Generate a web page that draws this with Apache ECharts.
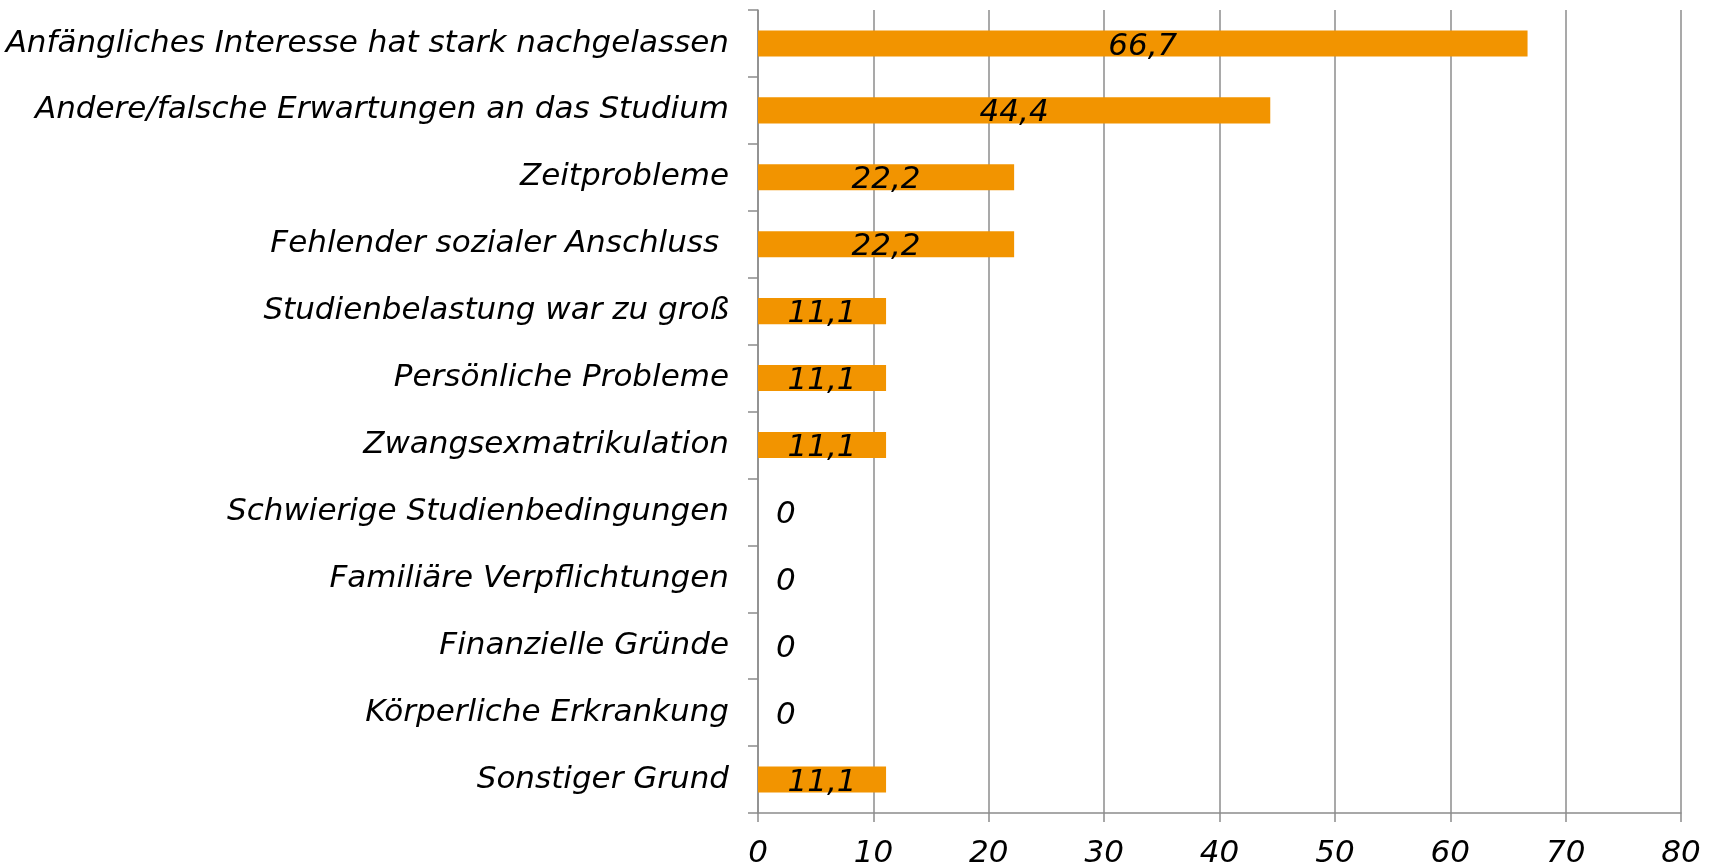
<!DOCTYPE html>
<html>
<head>
<meta charset="utf-8">
<script src="https://cdn.jsdelivr.net/npm/echarts@6/dist/echarts.min.js"></script>
<style>html,body{margin:0;padding:0;background:#fff}#c{width:1719px;height:866px}</style>
</head>
<body>
<div id="c"></div>
<script>
const categories = [
  "Anfängliches Interesse hat stark nachgelassen",
  "Andere/falsche Erwartungen an das Studium",
  "Zeitprobleme",
  "Fehlender sozialer Anschluss ",
  "Studienbelastung war zu groß",
  "Persönliche Probleme",
  "Zwangsexmatrikulation",
  "Schwierige Studienbedingungen",
  "Familiäre Verpflichtungen",
  "Finanzielle Gründe",
  "Körperliche Erkrankung",
  "Sonstiger Grund"
];
const values = [66.7, 44.4, 22.2, 22.2, 11.1, 11.1, 11.1, 0, 0, 0, 0, 11.1];
const xTicks = [0, 10, 20, 30, 40, 50, 60, 70, 80];

const FONT = '"DejaVu Sans", sans-serif';
const FS = 31;
const chart = echarts.init(document.getElementById('c'), null, {renderer: 'canvas'});
const fmt = p => String(p.value).replace('.', ',');
chart.setOption({
  animation: false,
  grid: {left: 758, right: 38, top: 10, bottom: 53, containLabel: false, outerBoundsMode: 'none'},
  xAxis: {
    type: 'value',
    min: xTicks[0], max: xTicks[xTicks.length - 1], interval: 10,
    axisLine: {show: true, lineStyle: {color: '#8c8c8c', width: 1.5}},
    axisTick: {show: true, length: 9, lineStyle: {color: '#8c8c8c', width: 1.5}},
    splitLine: {show: true, lineStyle: {color: '#8c8c8c', width: 1.5}},
    axisLabel: {color: '#000', fontSize: FS, fontStyle: 'italic', fontFamily: FONT, margin: 25}
  },
  yAxis: {
    type: 'category',
    inverse: true,
    data: categories,
    axisLine: {show: true, lineStyle: {color: '#8c8c8c', width: 1.5}},
    axisTick: {show: true, length: 10, alignWithLabel: false, lineStyle: {color: '#8c8c8c', width: 1.5}},
    axisLabel: {color: '#000', fontSize: FS, fontStyle: 'italic', fontFamily: FONT, margin: 29}
  },
  series: [{
    type: 'bar',
    barCategoryGap: '61%',
    itemStyle: {color: '#F29400'},
    data: values.map(v => ({
      value: v,
      label: v === 0 ? {position: 'right', distance: 18} : {position: 'inside'}
    })),
    label: {show: true, color: '#000', fontSize: FS, fontStyle: 'italic', fontFamily: FONT, formatter: fmt, offset: [0, 3]}
  }]
});
</script>
</body>
</html>
